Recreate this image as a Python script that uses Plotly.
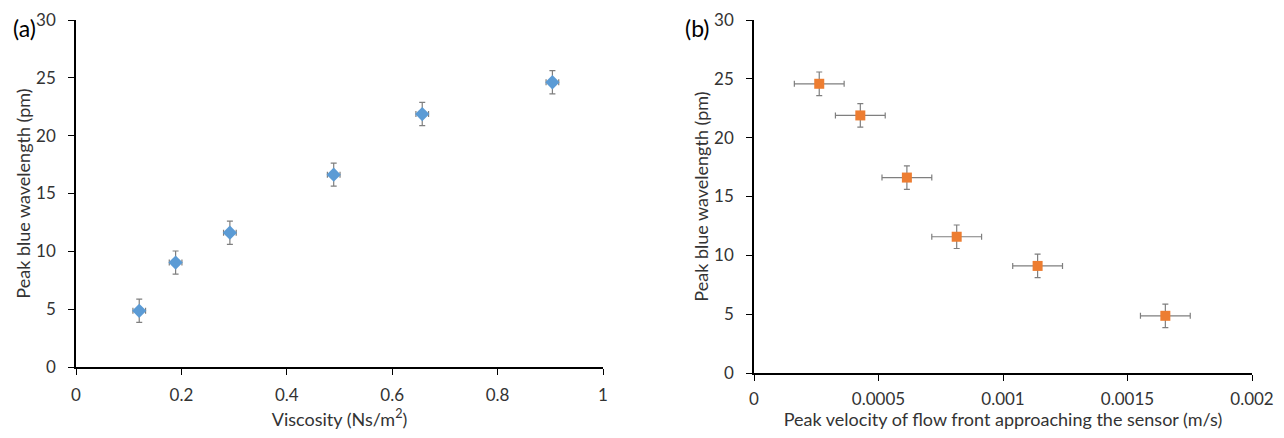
import plotly.graph_objects as go

# Data
y_vals = [4.86, 9.03, 11.61, 16.63, 21.87, 24.62]
y_err = [1.0, 1.0, 1.0, 1.0, 1.0, 1.0]

visc = [0.12, 0.189, 0.292, 0.489, 0.657, 0.904]
visc_err = [0.012, 0.012, 0.012, 0.012, 0.012, 0.012]

vel = [0.000262, 0.000427, 0.000614, 0.000814, 0.001139, 0.001652]
vel_err = [0.0001, 0.0001, 0.0001, 0.0001, 0.0001, 0.0001]
wl_b = [24.58, 21.89, 16.61, 11.58, 9.1, 4.86]

yticks = [0, 5, 10, 15, 20, 25, 30]
xticks_a = [0, 0.2, 0.4, 0.6, 0.8, 1]
xtick_a_text = ["0", "0.2", "0.4", "0.6", "0.8", "1"]
xticks_b = [0, 0.0005, 0.001, 0.0015, 0.002]
xtick_b_text = ["0", "0.0005", "0.001", "0.0015", "0.002"]

FONT = "Lato"
ERRC = "#7f7f7f"
# page body has an 8px margin, so the figure is 16px smaller than the window
W, H = 1268, 422
OFF = 8


def px_x(p):
    return (p - OFF) / W


def px_y(p):
    return 1 - (p - OFF) / H


fig = go.Figure()
fig.add_trace(go.Scatter(
    x=visc, y=y_vals, mode="markers",
    marker=dict(symbol="diamond", size=11, color="#5B9BD5"),
    error_y=dict(type="data", array=y_err, color=ERRC, thickness=1.2, width=3),
    error_x=dict(type="data", array=visc_err, color=ERRC, thickness=1.2, width=3),
    xaxis="x", yaxis="y", showlegend=False))
fig.add_trace(go.Scatter(
    x=vel, y=wl_b, mode="markers",
    marker=dict(symbol="square", size=10, color="#ED7D31"),
    error_y=dict(type="data", array=y_err, color=ERRC, thickness=1.2, width=3),
    error_x=dict(type="data", array=vel_err, color=ERRC, thickness=1.2, width=3),
    xaxis="x2", yaxis="y2", showlegend=False))

axis_common = dict(showgrid=False, zeroline=False, showline=True, linecolor="#000000",
                   linewidth=1.5, ticks="outside", ticklen=6, tickcolor="#000000",
                   automargin=False,
                   tickfont=dict(family=FONT, size=17, color="#333333"))
title_font = dict(family=FONT, size=18, color="#333333")

fig.update_layout(
    width=W, height=H,
    margin=dict(l=0, r=0, t=0, b=0, autoexpand=False),
    paper_bgcolor="white", plot_bgcolor="white",
    xaxis=dict(domain=[px_x(76), px_x(603)], range=[0, 1], tickvals=xticks_a, ticktext=xtick_a_text,
               anchor="y", ticklabelstandoff=6,
               title=dict(text="Viscosity (Ns/m<sup>2</sup>)", font=title_font, standoff=12),
               **axis_common),
    yaxis=dict(domain=[px_y(367), px_y(20)], range=[0, 30], tickvals=yticks, anchor="x",
               ticklabelstandoff=9,
               title=dict(text="Peak blue wavelength (pm)", font=title_font, standoff=1),
               **axis_common),
    xaxis2=dict(domain=[px_x(754), px_x(1252)], range=[0, 0.002], tickvals=xticks_b, ticktext=xtick_b_text,
                anchor="y2", ticklabelstandoff=4,
                title=dict(text="Peak velocity of flow front approaching the sensor (m/s)", font=title_font, standoff=5),
                **axis_common),
    yaxis2=dict(domain=[px_y(373), px_y(20)], range=[0, 30], tickvals=yticks, anchor="x2",
                ticklabelstandoff=9,
                title=dict(text="Peak blue wavelength (pm)", font=title_font, standoff=1),
                **axis_common),
    annotations=[
        dict(text="(a)", x=px_x(38), y=px_y(28), xref="paper", yref="paper", showarrow=False,
             font=dict(family=FONT, size=23, color="#000000"), xanchor="right", yanchor="middle"),
        dict(text="(b)", x=px_x(712), y=px_y(28), xref="paper", yref="paper", showarrow=False,
             font=dict(family=FONT, size=23, color="#000000"), xanchor="right", yanchor="middle"),
    ],
)

fig.write_html("out.html")
